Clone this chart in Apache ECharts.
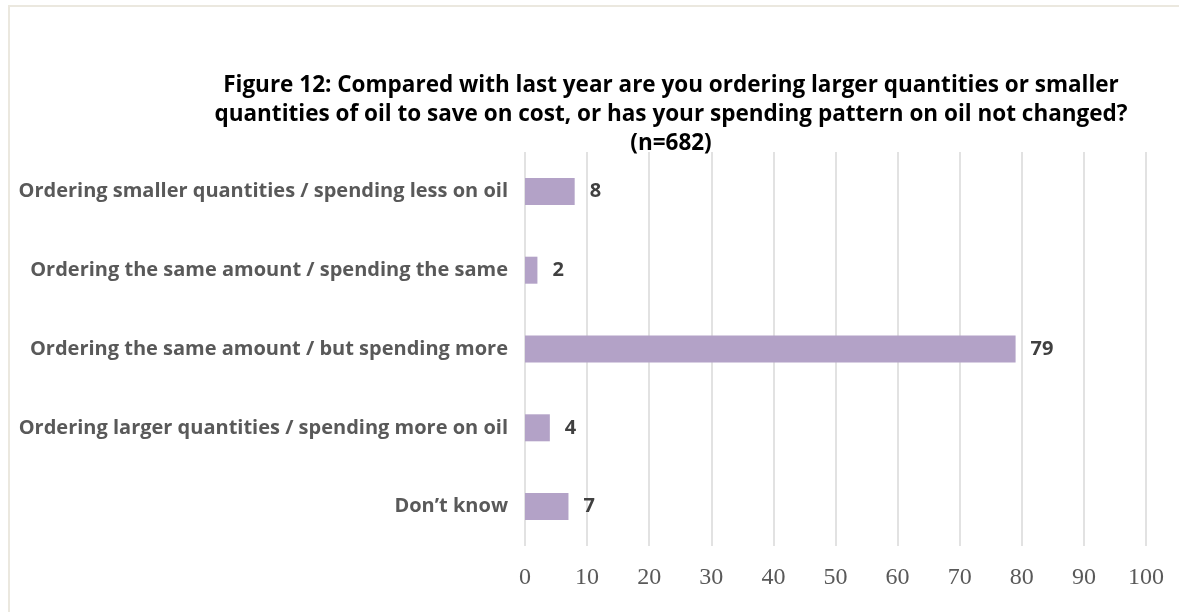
<!DOCTYPE html>
<html>
<head>
<meta charset="utf-8">
<script src="https://cdn.jsdelivr.net/npm/echarts@6/dist/echarts.min.js"></script>
<style>
  html, body { margin: 0; padding: 0; background: #ffffff; }
  #frame { position: absolute; left: 8px; top: 5px; width: 1180px; height: 620px; border: 2px solid #ebe8df; box-sizing: border-box; }
  #chart { position: absolute; left: 0; top: 0; width: 1179px; height: 612px; }
</style>
</head>
<body>
<div id="frame"></div>
<div id="chart"></div>
<script>
// Survey responses, listed top to bottom
const categories = [
  'Ordering smaller quantities / spending less on oil',
  'Ordering the same amount / spending the same',
  'Ordering the same amount / but spending more',
  'Ordering larger quantities / spending more on oil',
  'Don\u2019t know'
];
const values = [8, 2, 79, 4, 7];
const xTicks = [0, 10, 20, 30, 40, 50, 60, 70, 80, 90, 100];

const titleLines = [
  'Figure 12: Compared with last year are you ordering larger quantities or smaller',
  'quantities of oil to save on cost, or has your spending pattern on oil not changed?',
  '(n=682)'
];

const chart = echarts.init(document.getElementById('chart'), null, { renderer: 'canvas' });

chart.setOption({
  backgroundColor: 'transparent',
  animation: false,
  title: {
    text: titleLines.join('\n'),
    left: 666,
    top: 66,
    textAlign: 'center',
    textStyle: {
      fontFamily: 'Open Sans',
      fontWeight: 'bold',
      fontSize: 22.5,
      lineHeight: 29,
      color: '#000000'
    }
  },
  grid: { left: 525, right: 33, top: 152, bottom: 66, containLabel: false },
  xAxis: {
    type: 'value',
    min: xTicks[0],
    max: xTicks[xTicks.length - 1],
    interval: 10,
    axisLine: { show: false },
    axisTick: { show: false },
    splitLine: { show: true, lineStyle: { color: '#d9d9d9', width: 1.5 } },
    axisLabel: {
      margin: 20,
      fontFamily: 'Liberation Serif',
      fontSize: 24,
      color: '#595959'
    }
  },
  yAxis: {
    type: 'category',
    data: categories,
    inverse: true,
    axisLine: { show: false },
    axisTick: { show: false },
    axisLabel: {
      margin: 17,
      fontFamily: 'Open Sans',
      fontWeight: 'bold',
      fontSize: 20,
      color: '#595959'
    }
  },
  series: [{
    type: 'bar',
    data: values,
    barWidth: 27,
    itemStyle: { color: '#b3a2c7' },
    label: {
      show: true,
      position: 'right',
      distance: 15,
      fontFamily: 'Open Sans',
      fontWeight: 'bold',
      fontSize: 20,
      color: '#404040'
    }
  }]
});
</script>
</body>
</html>
